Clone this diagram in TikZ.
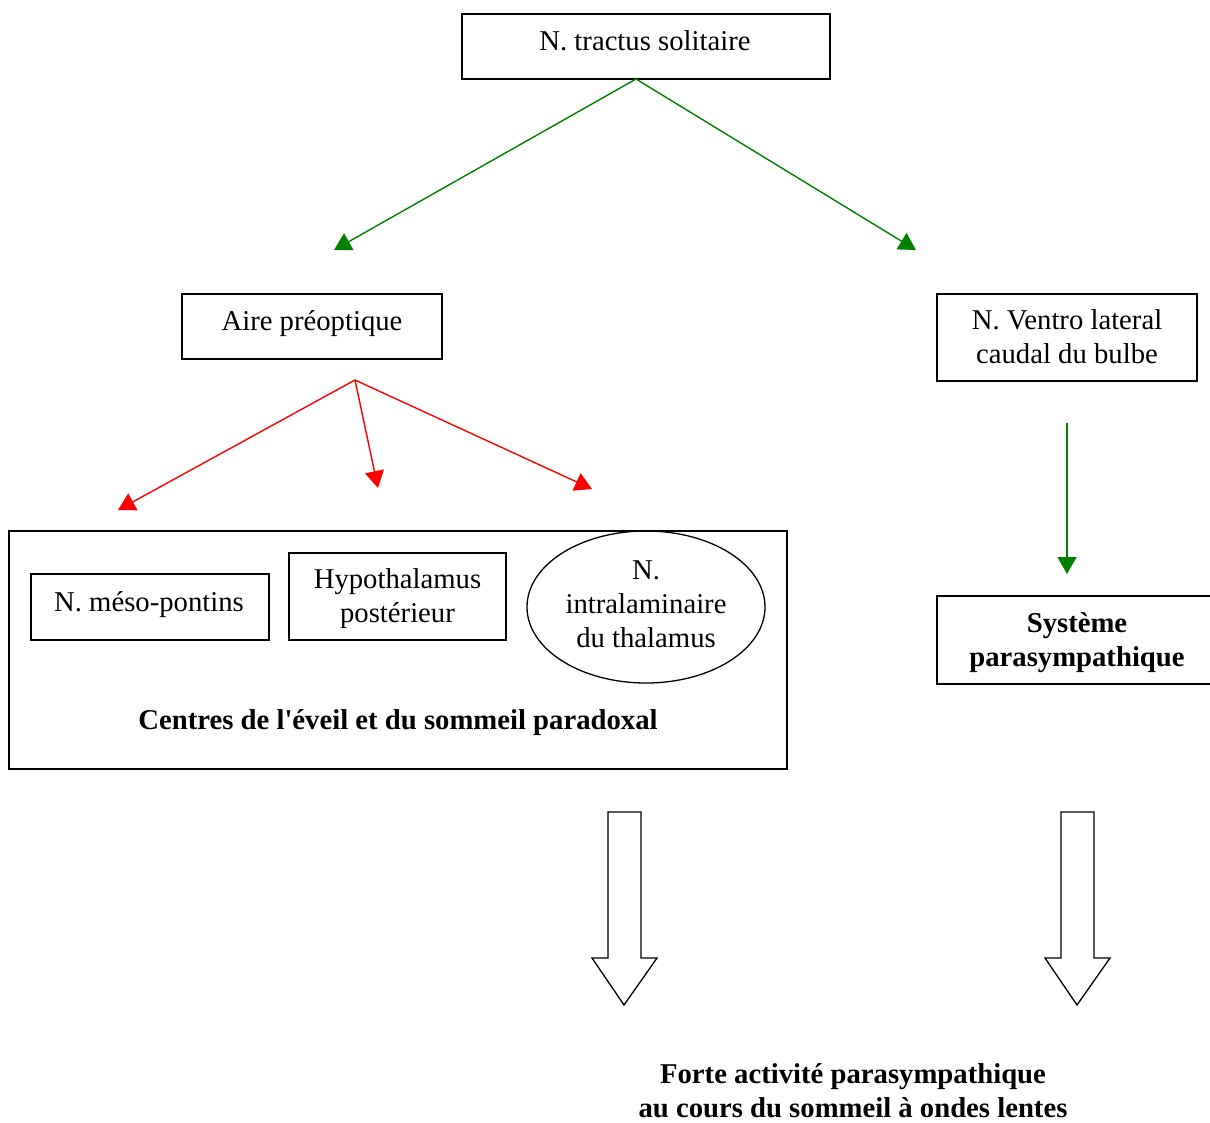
\documentclass[tikz,border=0pt]{standalone}
\usepackage{fontspec}
\setmainfont{Liberation Serif}
\usetikzlibrary{arrows.meta,shapes.geometric}
\definecolor{greenarrow}{RGB}{0,128,0}
\definecolor{redarrow}{RGB}{255,0,0}
\tikzset{
  box/.style={draw, line width=1.3pt, rectangle, inner sep=0pt},
  txt/.style={inner sep=0pt, align=center, font=\fontsize{28.7}{34}\selectfont},
  btxt/.style={txt, font=\fontsize{28.7}{34}\selectfont\bfseries},
  garrow/.style={draw=greenarrow, line width=1.4pt, -{Triangle[length=17pt,width=19pt]}, color=greenarrow},
  rarrow/.style={draw=redarrow, line width=1.4pt, -{Triangle[length=17pt,width=19pt]}, color=redarrow},
  blockarrow/.style={draw, line width=1.3pt, fill=white, line join=miter}
}
\begin{document}
\begin{tikzpicture}[x=1pt, y=-1pt]
\useasboundingbox (0,0) rectangle (1210,1122);

% top source nucleus
\node[box, minimum width=368pt, minimum height=65pt] (nts) at (646,46.5) {};
\node[txt] (ntsT) at (645,41) {N. tractus solitaire};

% second level
\node[box, minimum width=260pt, minimum height=65pt] (apo) at (312,326.5) {};
\node[txt] (apoT) at (312,324) {Aire préoptique};
\node[box, minimum width=260pt, minimum height=87pt] (nvl) at (1067,337.5) {};
\node[txt] (nvlT) at (1067,337) {N. Ventro lateral\\caudal du bulbe};

% arousal / paradoxical sleep centres
\node[box, minimum width=778pt, minimum height=238pt] (cen) at (398,650) {};
\node[box, minimum width=238pt, minimum height=66pt] (nmp) at (150,607) {};
\node[txt] (nmpT) at (149,605) {N. méso-pontins};
\node[box, minimum width=217pt, minimum height=87pt] (hyp) at (397.5,596.5) {};
\node[txt] (hypT) at (397.5,598.5) {Hypothalamus\\postérieur};
\node[draw, line width=1.3pt, ellipse, minimum width=238pt, minimum height=152pt, inner sep=0pt] (nit) at (646,607) {};
\node[txt] (nitT) at (646,604.5) {N.\\intralaminaire\\du thalamus};
\node[btxt] (cenT) at (398,723) {Centres de l\textquotesingle éveil et du sommeil paradoxal};

% parasympathetic system
\node[box, minimum width=280pt, minimum height=88pt] (sys) at (1077,640) {};
\node[btxt] (sysT) at (1077,643) {Système\\parasympathique};

% outcome
\node[btxt] (out) at (853,1091) {Forte activité parasympathique\\au cours du sommeil à ondes lentes};

% connector ends
\coordinate (ntsHub) at (636,79);
\coordinate (gL) at (334,250);
\coordinate (gR) at (916,250);
\coordinate (apoHub) at (355,380);
\coordinate (rA) at (118,510);
\coordinate (rB) at (378,488);
\coordinate (rC) at (592,489);
\coordinate (nvlOut) at (1067,423);
\coordinate (sysIn) at (1067,574);

\draw[garrow] (ntsHub) -- (gL);
\draw[garrow] (ntsHub) -- (gR);
\draw[rarrow] (apoHub) -- (rA);
\draw[rarrow] (apoHub) -- (rB);
\draw[rarrow] (apoHub) -- (rC);
\draw[garrow] (nvlOut) -- (sysIn);

% hollow block arrows
\draw[blockarrow] (608,812) -- (641,812) -- (641,958) -- (657,958) -- (624,1005) -- (592,958) -- (608,958) -- cycle;
\draw[blockarrow] (1061,812) -- (1094,812) -- (1094,958) -- (1110,958) -- (1077,1005) -- (1045,958) -- (1061,958) -- cycle;
\end{tikzpicture}
\end{document}
